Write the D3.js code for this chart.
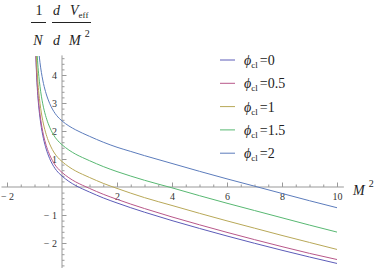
<!DOCTYPE html>
<html>
<head>
<meta charset="utf-8">
<script src="https://cdn.jsdelivr.net/npm/d3@7"></script>
<style>
  body { margin: 0; background: #fff; }
  svg text { font-family: "Times New Roman", "Liberation Serif", "DejaVu Serif", serif; }
  .axis text { font-size: 10px; fill: #333; }
  .axis path, .axis line { stroke: #999; }
</style>
</head>
<body>
<div id="chart"></div>
<script>
// Derivative of the effective potential vs M^2, one curve per phi_cl

// Sample points along M^2
let m2 = [-0.97, -0.95, -0.92, -0.88, -0.84, -0.8, -0.7, -0.6, -0.5, -0.4, -0.3, -0.2, -0.1, 0,
	0.25, 0.5, 0.75, 1, 1.5, 2, 2.5, 3, 4, 5, 6, 7, 8, 9, 10];

let phiLabels = ["0", "0.5", "1", "1.5", "2"];

let phi0 = [5.4, 4.67, 3.92, 3.27, 2.82, 2.47, 1.85, 1.44, 1.14, 0.91, 0.73, 0.59, 0.48, 0.39,
	0.2, 0.05, -0.07, -0.18, -0.39, -0.57, -0.74, -0.9, -1.2, -1.48, -1.75, -2.01, -2.26, -2.5, -2.73];
let phi05 = [5.53, 4.8, 4.05, 3.4, 2.95, 2.6, 1.98, 1.57, 1.27, 1.04, 0.86, 0.72, 0.61, 0.52,
	0.33, 0.18, 0.06, -0.05, -0.26, -0.44, -0.61, -0.77, -1.07, -1.35, -1.62, -1.88, -2.13, -2.37, -2.59];
let phi1 = [5.92, 5.19, 4.44, 3.79, 3.34, 2.99, 2.37, 1.96, 1.66, 1.43, 1.25, 1.11, 1.0, 0.91,
	0.72, 0.57, 0.45, 0.34, 0.13, -0.05, -0.22, -0.38, -0.66, -0.94, -1.21, -1.47, -1.73, -1.98, -2.23];
let phi15 = [6.52, 5.79, 5.04, 4.39, 3.94, 3.59, 2.97, 2.56, 2.26, 2.03, 1.85, 1.71, 1.6, 1.51,
	1.32, 1.17, 1.05, 0.94, 0.73, 0.55, 0.39, 0.24, -0.03, -0.31, -0.58, -0.84, -1.1, -1.36, -1.61];
let phi2 = [7.37, 6.64, 5.89, 5.24, 4.79, 4.44, 3.82, 3.41, 3.11, 2.88, 2.7, 2.56, 2.45, 2.36,
	2.18, 2.04, 1.92, 1.81, 1.6, 1.42, 1.27, 1.12, 0.84, 0.56, 0.29, 0.03, -0.23, -0.49, -0.74];

let series = [phi0, phi05, phi1, phi15, phi2];
let colors = ["#5c5cb8", "#b8588a", "#b8a858", "#58b872", "#5c7cbc"];

let xMajor = [-2, 2, 4, 6, 8, 10];
let yMajor = [-2, -1, 1, 2, 3, 4];

let width = 382, height = 268;

let svg = d3.select("#chart").append("svg")
	.attr("width", width)
	.attr("height", height)
	.style("display", "block");

svg.append("rect").attr("width", width).attr("height", height).attr("fill", "#fff");

let x = d3.scaleLinear().domain([0, 10]).range([62, 337]);
let y = d3.scaleLinear().domain([0, 4]).range([187, 75]);

let minus = d => d < 0 ? "\u2212 " + Math.abs(d) : String(d);

// Minor ticks (no labels)
let xMinor = d3.range(-2, 10.01, 0.5).filter(v => !xMajor.includes(v) && v !== 0);
let yMinor = d3.range(-2.8, 4.61, 0.2).map(v => Math.round(v * 10) / 10)
	.filter(v => !yMajor.includes(v) && v !== 0);

// d3 axes put sans-serif on their group, drop that
let plain = g => g.attr("font-family", null).attr("font-size", null);

let xAxisG = svg.append("g").attr("class", "axis").attr("transform", "translate(0," + y(0) + ")");
xAxisG.append("g").call(d3.axisBottom(x).tickValues(xMinor).tickSizeInner(-2.5).tickSizeOuter(0).tickFormat(""))
	.call(plain).call(g => g.select(".domain").remove());
xAxisG.append("g").call(d3.axisBottom(x).tickValues(xMajor).tickSizeInner(-4.5).tickSizeOuter(0).tickPadding(6).tickFormat(minus))
	.call(plain).call(g => g.select(".domain").remove());
xAxisG.append("line")
	.attr("x1", x(-2.2)).attr("x2", x(10.25))
	.attr("stroke", "#999");

let yAxisG = svg.append("g").attr("class", "axis").attr("transform", "translate(" + x(0) + ",0)");
yAxisG.append("g").call(d3.axisLeft(y).tickValues(yMinor).tickSizeInner(-2.5).tickSizeOuter(0).tickFormat(""))
	.call(plain).call(g => g.select(".domain").remove());
yAxisG.append("g").call(d3.axisLeft(y).tickValues(yMajor).tickSizeInner(-4.5).tickSizeOuter(0).tickPadding(5).tickFormat(minus))
	.call(plain).call(g => g.select(".domain").remove());
yAxisG.append("line")
	.attr("y1", y(4.7)).attr("y2", y(-2.9))
	.attr("stroke", "#999");

// Clip the curves to the plot area
svg.append("clipPath").attr("id", "plot")
	.append("rect")
	.attr("x", x(-1)).attr("y", y(4.68))
	.attr("width", x(10) - x(-1)).attr("height", y(-2.85) - y(4.68));

let line = d3.line()
	.x((d, i) => x(m2[i]))
	.y(d => y(d))
	.curve(d3.curveMonotoneX);

svg.append("g").attr("clip-path", "url(#plot)")
	.selectAll("path")
	.data(series)
	.enter().append("path")
	.attr("d", line)
	.attr("fill", "none")
	.attr("stroke", (d, i) => colors[i])
	.attr("stroke-width", 1);

// Legend
let legend = svg.append("g").selectAll("g")
	.data(phiLabels)
	.enter().append("g")
	.attr("transform", (d, i) => "translate(220," + (60 + i * 23.3) + ")");

legend.append("line")
	.attr("x1", 0).attr("x2", 15)
	.attr("stroke", (d, i) => colors[i]);

let legendText = legend.append("text")
	.attr("x", 24).attr("y", 5)
	.style("font-size", "14px")
	.attr("fill", "#222");
legendText.append("tspan").style("font-style", "italic").text("\u03d5");
legendText.append("tspan").attr("dy", 3).style("font-size", "9px").text("cl");
legendText.append("tspan").attr("dy", -3).attr("dx", 2).text("=");
legendText.append("tspan").text(d => d);

// Y axis label: (1/N) dV_eff / dM^2
let lab = svg.append("g").attr("fill", "#222").style("font-size", "14px");
lab.append("text").attr("x", 39).attr("y", 15).attr("text-anchor", "middle").text("1");
lab.append("line").attr("x1", 31).attr("x2", 46).attr("y1", 22.5).attr("y2", 22.5).attr("stroke", "#222");
lab.append("text").attr("x", 38).attr("y", 45).attr("text-anchor", "middle").style("font-style", "italic").text("N");

let num = lab.append("text").attr("x", 53).attr("y", 15).style("font-style", "italic");
num.append("tspan").text("d");
num.append("tspan").attr("dx", 10).text("V");
num.append("tspan").attr("dy", 3).style("font-size", "9px").style("font-style", "normal").text("eff");
lab.append("line").attr("x1", 52).attr("x2", 91).attr("y1", 22.5).attr("y2", 22.5).attr("stroke", "#222");
let den = lab.append("text").attr("x", 53).attr("y", 45).style("font-style", "italic");
den.append("tspan").text("d");
den.append("tspan").attr("dx", 9).text("M");
den.append("tspan").attr("dx", 4).attr("dy", -8).style("font-size", "10px").style("font-style", "normal").text("2");

// X axis label: M^2
let xl = svg.append("text").attr("x", 353).attr("y", 195).attr("fill", "#222").style("font-size", "14px");
xl.append("tspan").style("font-style", "italic").text("M");
xl.append("tspan").attr("dx", 4).attr("dy", -8).style("font-size", "10px").text("2");
</script>
</body>
</html>
